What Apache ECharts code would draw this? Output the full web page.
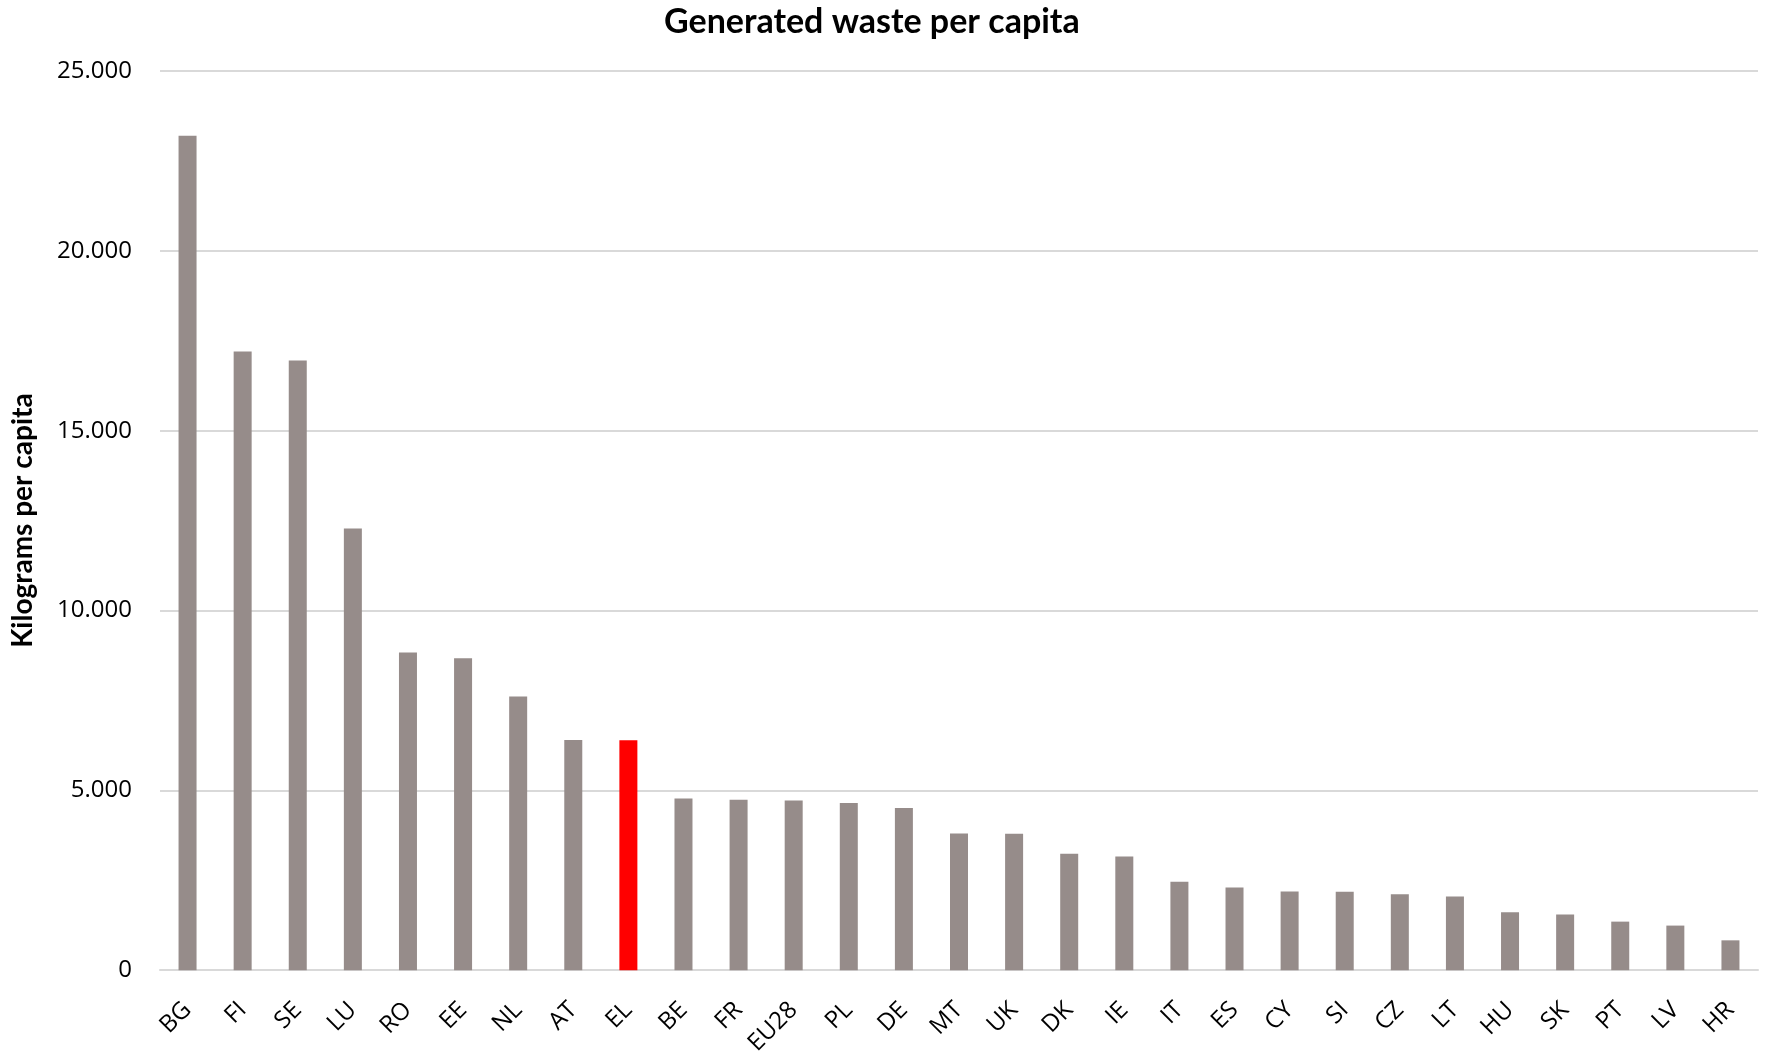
<!DOCTYPE html>
<html><head><meta charset="utf-8">
<script src="https://cdn.jsdelivr.net/npm/echarts@6/dist/echarts.min.js"></script>
<style>html,body{margin:0;padding:0;background:#fff}#c{width:1767px;height:1058px}</style>
</head><body><div id="c"></div>
<script>
const categories = ['BG','FI','SE','LU','RO','EE','NL','AT','EL','BE','FR','EU28','PL','DE','MT','UK','DK','IE','IT','ES','CY','SI','CZ','LT','HU','SK','PT','LV','HR'];
const values = [23200,17200,16950,12280,8830,8670,7610,6400,6390,4770,4740,4720,4650,4510,3800,3790,3240,3160,2460,2300,2190,2180,2110,2050,1610,1550,1350,1240,830];
const highlight = 'EL';
const yTicks = [0,5000,10000,15000,20000,25000];

const BOLD = 'Lato';
const LBL = 'Open Sans';
const chart = echarts.init(document.getElementById('c'));
chart.setOption({
  backgroundColor:'#fff',
  title:{text:'Generated waste per capita',left:659,top:0,
    textStyle:{fontFamily:BOLD,fontWeight:'bold',fontSize:34,color:'#000'}},
  grid:{left:160,right:9,top:71,bottom:85},
  xAxis:{type:'category',data:categories,
    axisLine:{lineStyle:{color:'#d9d9d9',width:2}},axisTick:{show:false},
    axisLabel:{rotate:45,fontFamily:LBL,fontSize:24,color:'#000',margin:36,interval:0}},
  yAxis:{type:'value',min:0,max:25000,interval:5000,
    name:'Kilograms per capita',nameLocation:'middle',nameGap:123,
    nameTextStyle:{fontFamily:BOLD,fontWeight:'bold',fontSize:28,color:'#000'},
    axisLine:{show:false},axisTick:{show:false},
    splitLine:{lineStyle:{color:'#d9d9d9',width:2}},
    axisLabel:{fontFamily:LBL,fontSize:24,color:'#000',margin:28,
      formatter:v=>v.toLocaleString('de-DE')}},
  series:[{type:'bar',barWidth:18,
    data:values.map((v,i)=>({value:v,itemStyle:{color:categories[i]===highlight?'#ff0000':'#968c8a'}})),
  }]
});
</script></body></html>
